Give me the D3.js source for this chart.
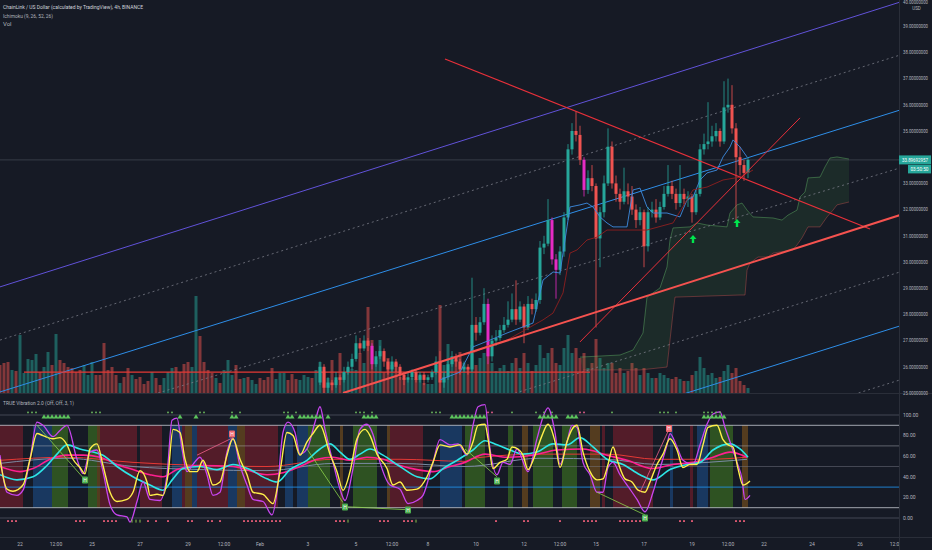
<!DOCTYPE html>
<html><head><meta charset="utf-8">
<script src="https://cdn.jsdelivr.net/npm/d3@7"></script>
<style>html,body{margin:0;padding:0;background:#161a25;overflow:hidden}svg{display:block}</style>
</head><body><svg id="c" width="932" height="550"></svg>
<script>
// ---------------- DATA ----------------
const titleMain = "ChainLink / US Dollar (calculated by TradingView), 4h, BINANCE";
const titleIchi = "Ichimoku (9, 26, 52, 26)";
const titleVol = "Vol";
const titleInd = "TRUE Vibration 2.0 (Off, Off, 3, 1)";
const currentPrice = 33.89692957;
const countdown = "03:50:50";

const priceTicks = [40,39,38,37,36,35,33,32,31,30,29,28,27,26,25];
const indTicks = [100,80,60,40,20,0];
const indLevels = [100,90,70,50,30,10,0];
const tickDays = [0,1.5,3,5,7,8.5,10,12,14,15.5,17,19,21,22.5,24,26,28,29.5,31,33,35,36.5];
const tickLabels = ["22","12:00","25","27","29","12:00","Feb","3","5","12:00","8","10","12","12:00","15","17","19","12:00","22","24","26","12:00"];

// volume, one per 4h candle (index 0..187)
const volume = [28,30,31,23,22,58,20,34,33,39, 21,26,41,28,59,33,30,26,25,21,
 23,28,18,31,18,18,50,23,26,18, 10,16,25,18,14,16,9,12,21,15,
 8,15,21,25,26,21,29,31,26,97, 57,31,23,20,15,10,23,33,18,28,
 14,15,16,13,9,15,13,16,25,14, 20,20,13,19,14,13,18,16,15,23,
 31,21,15,33,13,40,20,25,24,23, 40,30,86,53,33,53,21,35,28,30,
 16,15,13,15,14,17,10,9,9,28, 88,28,49,33,33,41,30,25,48,28,
 35,40,45,30,22,25,28,22,30,35, 25,40,30,22,28,48,35,40,45,30,
 28,45,58,40,45,35,40,25,30,54, 35,25,30,30,20,25,20,22,30,25,
 18,25,20,15,15,20,18,15,14,16, 14,12,12,18,22,36,25,18,20,15,
 16,22,28,20,25,12,8,5];
// direction of early (off-screen) candles: t = up, r = down
const earlyDir = "rrrtrtttttrttrtrrrrrrtttrrrrrrtrrtrrrrtrrtttrrrrttrrrrtrtttrrtrttrrrrtttrrrtttrt";

const candleStart = 80;
const candleFirstOpen = 25.4;
const candleClose = [26.0,25.2,25.4,25.3,25.6,25.5,25.8,26.0,26.3,26.9,
 26.7,27.0,26.8,26.1,26.4,26.6,26.2,25.9,26.2,26.0,
 25.7,25.5,25.6,25.8,25.5,25.7,25.5,25.6,25.8,26.2,
 25.4,25.6,26.1,26.4,26.2,25.9,26.0,25.9,27.6,27.3,
 27.7,28.4,26.4,27.0,27.1,27.4,27.6,27.8,28.2,27.8,
 28.3,27.5,28.4,28.2,28.55,30.55,30.7,31.6,30.1,29.7,
 30.4,31.7,34.3,35.0,34.85,33.9,32.75,33.2,32.9,30.9,
 31.9,33.0,34.4,33.0,32.6,32.3,32.7,32.5,32.0,31.6,
 31.9,30.6,31.9,32.0,31.7,32.1,32.6,32.9,32.6,32.25,
 32.6,32.4,32.5,31.9,32.6,34.3,34.5,34.6,34.8,35.0,
 34.6,35.9,36.0,35.1,34.0,33.7,33.4,33.897];
const candleHigh = [26.2,26.1,25.6,25.5,25.8,25.7,26.0,26.2,26.5,27.2,
 27.1,27.2,27.1,26.9,26.6,26.8,26.7,26.3,26.4,26.3,
 26.1,25.8,25.8,25.9,25.9,25.8,25.8,25.7,25.9,26.4,
 26.6,25.8,26.3,26.6,26.5,26.3,26.2,26.1,29.4,27.9,
 27.9,29.0,28.6,27.2,27.4,27.6,27.9,28.5,28.8,29.3,
 28.5,28.4,28.7,28.6,28.8,30.8,31.0,32.4,31.7,30.3,
 30.6,31.9,34.5,35.3,35.75,35.2,34.0,33.5,33.7,33.0,
 32.1,33.3,35.1,34.6,33.3,32.8,33.6,33.0,32.9,32.2,
 32.1,32.0,32.1,32.3,32.4,32.3,32.9,33.7,33.1,32.8,
 33.7,32.8,32.7,32.6,32.8,34.5,34.9,36.1,35.2,35.3,
 35.1,36.9,37.0,36.75,35.3,34.4,33.9,34.0];
const candleLow = [25.3,25.0,25.0,25.1,25.2,25.3,25.4,25.7,25.9,26.2,
 26.5,26.6,26.6,25.9,26.0,26.3,26.0,25.7,25.8,25.8,
 25.5,25.3,25.4,25.5,25.4,25.4,25.3,25.4,25.5,25.7,
 25.0,25.2,25.5,26.0,26.0,25.7,25.8,25.7,25.8,27.0,
 27.2,27.6,26.1,26.2,26.8,27.0,27.3,27.5,27.7,27.6,
 27.7,26.9,27.4,28.0,28.1,28.4,30.3,30.6,29.9,28.6,
 29.5,30.2,31.6,34.1,34.6,33.7,32.5,32.6,32.7,27.5,
 29.8,31.7,32.9,32.8,32.3,32.0,32.2,32.2,31.8,31.3,
 31.4,29.8,30.4,31.7,31.5,31.6,32.0,32.5,32.4,32.0,
 32.1,32.2,32.1,31.5,31.8,32.5,34.1,34.3,34.4,34.6,
 34.4,34.5,35.7,34.9,31.6,33.3,33.1,33.2];
const magentaIdx = [93,122,138,139,146];

// Ichimoku lines [candle index, price]
const tenkan = [[110,25.5],[115,25.8],[118.25,26.76],[122.5,27.02],[126.75,27.29],[133.25,27.67],[135.75,29.31],[138.25,29.62],[140,29.58],[141.75,31.34],[142.5,32.10],[145,32.18],[146.75,32.25],[148.25,32.10],[150,31.72],[151.75,31.49],[153.25,31.34],[156.75,31.34],[158.25,32.75],[160,32.82],[161.75,32.10],[163.25,31.87],[166.75,31.87],[170,31.72],[171.75,32.37],[173.25,32.48],[175,33.13],[176.75,33.40],[179.25,33.51],[180.75,34.01],[182.5,34.39],[183.25,34.66],[185,34.39],[186.75,34.01]];
const kijun = [[118.25,26.53],[122.5,26.83],[126.75,27.02],[135.75,27.79],[138.25,28.05],[140.75,28.82],[142.5,30.34],[144.25,30.46],[146.75,30.84],[149.25,30.95],[151.75,31.22],[161.75,31.22],[168.25,31.49],[173.25,32.75],[176.75,32.86],[180.75,33.13],[185,33.24],[188.25,33.51]];
const spanA = [[145,26.37],[155,26.45],[158.25,26.64],[160.75,27.29],[161.75,28.66],[165,29.01],[166.75,29.81],[167.5,30.84],[168.25,31.30],[172.5,31.34],[174.25,31.49],[176.75,31.41],[181.75,31.34],[182.5,31.87],[184.25,32.18],[185.5,32.25],[186.75,31.98],[188.25,31.72],[193.25,31.68],[195.5,31.60],[197,31.79],[199.25,31.98],[200,32.48],[201.25,32.67],[202,33.21],[205,33.24],[206.25,33.63],[207.5,33.97],[209.25,34.01],[212.25,33.93]];
const spanB = [[145.75,25.88],[160,25.88],[166.75,25.99],[168.25,28.05],[168.75,28.66],[185,28.74],[186.25,28.74],[186.75,29.69],[187.5,29.96],[189.5,30.19],[192,30.19],[193.25,30.34],[198.25,30.46],[199.25,30.65],[200.5,30.92],[202,31.34],[205,31.34],[206.75,31.72],[208.25,31.98],[209.25,32.18],[212.25,32.29]];

// Drawn lines [candle index, price]
const channelPurple = [[0,29.05],[225,39.92]];
const channelBlue = [[[0,25.04],[225,35.80]],[[0,16.76],[225,27.56]]];
const channelDotted = [[[0,27.02],[225,37.90]],[[0,23.17],[225,33.59]],[[0,18.8],[225,29.62]],[[0,14.7],[225,25.5]]];
const trendDown = [[111.25,37.75],[217.5,31.26]];
const trendUpThin = [[145,26.95],[200,35.50]];
const trendSupport = [[85.75,25.0],[225,31.79]];
const levelLine = [[6,25.8],[147.5,25.8]];
const arrowsUp = [[173.25,30.88],[184.25,31.49]];

// Indicator [candle index, value]
const indYellow = [[0,57],[1.75,28],[3.25,26],[5.75,32],[7.5,57],[9.25,82],[10.75,80],[13.25,77],[15,78],[16.75,71],[18.25,57],[20,49],[21.25,43],[22.5,67],[24.25,72],[25.75,51],[27.5,25],[29.25,16],[31.75,18],[33.25,25],[35,46],[36.75,35],[37.5,22],[39.25,23],[40.75,22],[42,42],[43.25,86],[45,83],[46.25,57],[47.5,45],[49.25,45],[50.75,56],[52,45],[53.25,32],[55,35],[56.75,61],[58.25,77],[60,57],[61.75,42],[63.25,25],[65.75,23],[68.25,14],[70,45],[71.75,83],[73.25,80],[75,61],[76.75,74],[78.25,82],[80,90],[82.5,62],[84.25,45],[85.75,27],[87.5,45],[89.25,77],[91.25,86],[92.5,80],[94.25,62],[96.75,48],[98.25,32],[100,35],[101.75,27],[104.25,28],[106.75,40],[108.25,54],[110,71],[112.5,69],[115,71],[116.75,62],[118.25,74],[119.5,90],[121.25,91],[122,77],[123.25,48],[125,54],[126.75,57],[128,69],[129.5,67],[130.75,61],[132,47],[133.75,61],[135.5,80],[137,91],[138.75,74],[140,49],[141.75,74],[143,86],[144.25,90],[145.75,64],[147.5,45],[149.25,37],[150.75,38],[152,52],[153.25,69],[154.5,54],[156.25,38],[158,35],[159.5,27],[161.25,25],[162.5,35],[164.25,52],[165.75,62],[167.5,77],[169.25,66],[170.75,49],[172.5,52],[174.25,52],[175.75,71],[177,88],[179.25,90],[180.75,76],[182,71],[183.25,69],[184.5,48],[185.75,32],[187.5,36]];
const indPurple = [[0,61],[1.75,25],[4.25,22],[5.75,27],[7.5,57],[9.25,93],[10.75,90],[13.25,79],[15,85],[16.75,90],[19.25,57],[20.75,43],[22.5,64],[24.25,66],[25.75,45],[27.5,13],[29.25,3],[31.75,1],[32.5,-4],[34.25,16],[35.75,35],[37.5,18],[40,17],[41.75,42],[43,95],[44.25,97],[45.5,67],[46.75,45],[48.25,52],[50,59],[51.75,42],[53.25,22],[55,25],[56.75,64],[58.25,77],[60,51],[61.75,32],[63.25,18],[65.75,16],[68,3],[69.25,25],[70.75,83],[72,93],[73.75,83],[75,62],[76.75,67],[78.75,93],[80,108],[81.25,86],[83.25,54],[85,28],[86.25,17],[88.25,48],[90,86],[91.75,91],[93.25,81],[95,54],[97.5,32],[100,28],[102,14],[104.25,17],[105.75,22],[108.25,54],[110,76],[112.5,71],[114.5,72],[116.75,61],[118.25,90],[119.5,108],[121.25,110],[122.5,67],[124.25,42],[125.75,54],[127.5,52],[129.25,67],[132,45],[134.25,77],[135.75,98],[137,107],[138.75,83],[140,52],[141.75,74],[143,90],[144.25,88],[145.75,54],[147.5,42],[149.25,25],[150.75,25],[152,49],[153.25,54],[155,42],[157.5,28],[159.25,18],[161.25,6],[163.25,25],[165,48],[166.75,71],[167.5,82],[169.25,69],[170.75,56],[173.25,52],[175,71],[176.75,91],[178.25,101],[180,103],[181.25,88],[182.5,74],[184.25,54],[185.5,38],[186.25,18],[187.5,22]];
const indCyan = [[0,42],[4.25,37],[8.25,40],[11.75,51],[14.25,62],[16.75,71],[20,67],[23.25,64],[25.75,61],[29.25,50],[33.25,40],[37.5,32],[40.75,27],[43.25,38],[45.75,48],[50,50],[54.25,47],[58.25,52],[62.5,47],[66.75,38],[69.25,35],[72.5,47],[76.75,56],[80,67],[82.5,72],[85,64],[87.5,57],[90,62],[92.5,67],[95.75,61],[100,50],[104.25,40],[107.5,38],[110.75,48],[114.25,56],[118.25,66],[121.25,75],[124.25,71],[127.5,66],[130.75,62],[134.25,64],[138.25,72],[141.75,71],[145,78],[148.25,69],[151.75,57],[155.75,52],[160,42],[163.25,37],[167.5,47],[171.75,52],[175,54],[178.25,66],[182.5,72],[185,67],[187,59]];
const indPink = [[0,50],[5,45],[8.25,48],[12.5,57],[16.75,61],[20.75,61],[25,59],[29.25,52],[33.25,47],[37.5,42],[40.75,40],[44.25,47],[50,51],[58.25,50],[66.75,42],[70.75,44],[75,50],[79.25,57],[83.25,59],[87.5,56],[91.75,59],[95.75,57],[100,51],[104.25,47],[108.25,45],[112.5,50],[116.25,54],[121.25,62],[126.75,59],[133.25,61],[139.25,66],[145.75,67],[151.75,61],[156.75,56],[163.25,48],[168.25,52],[173.25,54],[178.25,59],[182.5,64],[186.75,59]];
const indRed = [[0,56],[16.75,59],[33.25,54],[50,51],[66.75,50],[83.25,57],[100,57],[116.25,55],[118.25,58],[135,62],[151.75,62],[164.25,57],[176.75,57],[186.75,59]];
const indSlate = [[0,53],[16.75,58],[33.25,50],[50,47],[66.75,46],[83.25,53],[100,53],[116.25,50],[135,58],[151.75,57],[164.25,52],[176.75,54],[186.75,57]];
const pivotGreen = [[[9.25,90],[21.25,37]],[[76.75,67],[85.75,15]],[[86.25,11],[102,8]],[[116.25,67],[124.25,40]],[[149.25,25],[161.25,3]]];
const pivotPink = [[[49.25,61],[58.25,78]],[[160,25],[167,84]]];
const hGreen = [[21.25,37],[86.25,10.7],[102,7.8],[124.25,36],[161.25,0]];
const hPink = [[58,81.5],[167.25,87]];
// background zones [startIdx, endIdx, kind]
const zones = [[0,5.75,'r'],[8.25,13,'b'],[13,17,'g'],[22,24.25,'g'],[24.25,25,'o'],[25,34.25,'r'],[35,40.5,'r'],[43,45.5,'b'],[45.5,46.25,'r'],[46.25,48,'o'],[48,49.25,'b'],[49.25,57,'r'],[57,59.25,'b'],[59.25,61.25,'o'],[61.25,69.5,'r'],[71.25,73.25,'b'],[74.25,77,'b'],[77,82.5,'g'],[85,85.75,'o'],[88.25,94.25,'g'],[96.75,97.5,'o'],[97.5,105.75,'r'],[110,115.5,'b'],[116.25,121.25,'g'],[127,128.25,'g'],[130.5,132,'o'],[133.25,138.25,'g'],[140.5,144.25,'g'],[147.5,150,'o'],[150.5,151.25,'r'],[153.25,163.25,'r'],[167.5,168.25,'b'],[172.5,173.25,'r'],[174.25,177,'b'],[177.5,183.25,'g'],[185.5,187,'o']];
const triangleIdx = [11,12,13,14,15,16,17,45,49,58,59,72,73,75,76,77,78,79,80,82,91,92,93,94,113,114,115,116,117,118,119,120,121,135,136,137,138,139,142,143,144,176,177,178,179,180,181];
const dotGreenIdx = [7,8,9,23,24,25,42,43,50,51,58,60,71,72,74,89,90,91,93,108,109,110,128,134,136,138,153,165,166,167,169,176,177,178,179,180];
const dotPinkIdx = [122,123,145,146];
const bottomPinkIdx = [2,3,4,19,20,21,26,27,28,29,37,39,42,47,48,52,53,55,61,62,63,64,65,66,67,68,69,70,84,85,86,95,96,97,101,102,103,124,131,132,140,146,147,148,149,155,156,157,158,159,160,170,171,173,184,185,186];
const bottomGreenIdx = [33,34,35,87,104];

// ---------------- CHART ----------------
const W=932,H=550;
const BG="#161a25";
const svg=d3.select('#c');
svg.append('rect').attr('width',W).attr('height',H).attr('fill',BG);
const x=d3.scaleLinear().domain([0,225]).range([0,900]);
const yP=d3.scaleLinear().domain([25,40]).range([393,0]);
const yV=d3.scaleLinear().domain([0,100]).range([393,293]);
const yI=d3.scaleLinear().domain([0,100]).range([518,415]);
const dayIdx=d=>5+6*d;
const FONT="Roboto, 'Noto Sans', sans-serif";
const TXT="#b2b5be";

const defs=svg.append('defs');
defs.append('clipPath').attr('id','cp').append('rect').attr('x',0).attr('y',0).attr('width',899).attr('height',393);
defs.append('clipPath').attr('id','ci').append('rect').attr('x',0).attr('y',394).attr('width',899).attr('height',143);
defs.append('clipPath').attr('id','ct').append('rect').attr('x',0).attr('y',537).attr('width',899).attr('height',13);

const gP=svg.append('g').attr('clip-path','url(#cp)');
const lineP=d3.line().x(d=>x(d[0])).y(d=>yP(d[1]));

// volume
const candleDir=i=>{
  if(i>=candleStart){const k=i-candleStart;const o=k?candleClose[k-1]:candleFirstOpen;return candleClose[k]>=o;}
  return earlyDir[i]==='t';
};
gP.append('g').selectAll('rect').data(volume).join('rect')
 .attr('x',(v,i)=>x(i)-1.5).attr('width',3)
 .attr('y',v=>yV(v)).attr('height',v=>393-yV(v))
 .attr('fill',(v,i)=>candleDir(i)?'#26a69a':'#ef5350').attr('fill-opacity',0.5);

// cloud
const cloudPoly=spanA.concat(spanB.slice().reverse());
gP.append('path').attr('d',lineP(cloudPoly)+'Z').attr('fill','#43a047').attr('fill-opacity',0.13).attr('stroke','none');
gP.append('path').attr('d',lineP(spanA)).attr('fill','none').attr('stroke','#66bb6a').attr('stroke-opacity',0.55).attr('stroke-width',0.8);
gP.append('path').attr('d',lineP(spanB)).attr('fill','none').attr('stroke','#c0504d').attr('stroke-opacity',0.55).attr('stroke-width',0.8);

// channel
gP.append('path').attr('d',lineP(channelPurple)).attr('stroke','#6152d9').attr('stroke-width',1).attr('fill','none');
channelBlue.forEach(l=>gP.append('path').attr('d',lineP(l)).attr('stroke','#2e8ee8').attr('stroke-width',1).attr('fill','none'));
channelDotted.forEach(l=>gP.append('path').attr('d',lineP(l)).attr('stroke','#787b86').attr('stroke-width',0.8).attr('stroke-dasharray','2,3').attr('fill','none'));
gP.append('path').attr('d',lineP(levelLine)).attr('stroke','#e53935').attr('stroke-width',1.3).attr('fill','none');
// price line
gP.append('line').attr('x1',0).attr('x2',899).attr('y1',yP(currentPrice)).attr('y2',yP(currentPrice)).attr('stroke','#5d606b').attr('stroke-width',0.6).attr('stroke-opacity',0.8);

// candles
const candles=candleClose.map((c,k)=>({i:candleStart+k,o:k?candleClose[k-1]:candleFirstOpen,c,h:candleHigh[k],l:candleLow[k]}));
const cCol=d=>magentaIdx.includes(d.i)?'#e62bc4':(d.c>=d.o?'#26a69a':'#ef5350');
const gC=gP.append('g');
gC.selectAll('line').data(candles).join('line')
 .attr('x1',d=>x(d.i)).attr('x2',d=>x(d.i)).attr('y1',d=>yP(d.h)).attr('y2',d=>yP(d.l))
 .attr('stroke',cCol).attr('stroke-width',0.8);
gC.selectAll('rect').data(candles).join('rect')
 .attr('x',d=>x(d.i)-1.5).attr('width',3)
 .attr('y',d=>yP(Math.max(d.o,d.c))).attr('height',d=>Math.max(0.8,Math.abs(yP(d.o)-yP(d.c))))
 .attr('fill',cCol);

// ichimoku
gP.append('path').attr('d',lineP(tenkan)).attr('stroke','#3d8be0').attr('stroke-width',0.9).attr('fill','none');
gP.append('path').attr('d',lineP(kijun)).attr('stroke','#8e1f1f').attr('stroke-width',0.9).attr('fill','none');

// trend lines
gP.append('path').attr('d',lineP(trendDown)).attr('stroke','#e8303a').attr('stroke-width',1.2).attr('fill','none');
gP.append('path').attr('d',lineP(trendUpThin)).attr('stroke','#e8303a').attr('stroke-width',1).attr('fill','none');
gP.append('path').attr('d',lineP(trendSupport)).attr('stroke','#f5524f').attr('stroke-width',2).attr('fill','none');

// arrows
arrowsUp.forEach(a=>{
  const cx=x(a[0]),cy=yP(a[1]);
  gP.append('path').attr('d',`M${cx},${cy-4} L${cx+3.5},${cy} L${cx+1.2},${cy} L${cx+1.2},${cy+4} L${cx-1.2},${cy+4} L${cx-1.2},${cy} L${cx-3.5},${cy} Z`).attr('fill','#00e64d');
});

// header texts
svg.append('text').attr('x',3).attr('y',9).text(titleMain).attr('fill','#d1d4dc').attr('font-family',FONT).attr('font-size',6).attr('textLength',140).attr('lengthAdjust','spacingAndGlyphs');
svg.append('text').attr('x',3).attr('y',17.5).text(titleIchi).attr('fill',TXT).attr('font-family',FONT).attr('font-size',6).attr('textLength',50).attr('lengthAdjust','spacingAndGlyphs');
svg.append('text').attr('x',3).attr('y',26).text(titleVol).attr('fill',TXT).attr('font-family',FONT).attr('font-size',6);

// ---------------- INDICATOR ----------------
const gI=svg.append('g').attr('clip-path','url(#ci)');
const zoneCol={r:'rgba(170,32,48,0.42)',g:'rgba(80,160,30,0.42)',b:'rgba(33,120,220,0.32)',o:'rgba(230,140,20,0.3)'};
gI.selectAll('rect.z').data(zones).join('rect').attr('class','z')
 .attr('x',d=>x(d[0])).attr('width',d=>x(d[1])-x(d[0]))
 .attr('y',yI(90)).attr('height',yI(10)-yI(90)).attr('fill',d=>zoneCol[d[2]]);
const lvlStyle={100:['#787b86',0.6,0.8],90:['#d1d4dc',0.75,1],70:['#b2b5be',0.6,0.8],50:['#787b86',0.6,0.8],30:['#2196f3',0.9,0.9],10:['#d1d4dc',0.75,1],0:['#787b86',0.6,0.8]};
indLevels.forEach(v=>{
  const s=lvlStyle[v];
  gI.append('line').attr('x1',0).attr('x2',899).attr('y1',yI(v)).attr('y2',yI(v)).attr('stroke',s[0]).attr('stroke-opacity',s[1]).attr('stroke-width',s[2]);
});
const lineI=d3.line().x(d=>x(d[0])).y(d=>yI(d[1])).curve(d3.curveMonotoneX);
const lineIs=d3.line().x(d=>x(d[0])).y(d=>yI(d[1]));
gI.append('path').attr('d',lineI(indRed)).attr('stroke','#e53935').attr('stroke-width',1).attr('fill','none');
gI.append('path').attr('d',lineI(indSlate)).attr('stroke','#7b8ba3').attr('stroke-width',1).attr('fill','none');
gI.append('path').attr('d',lineI(indPink)).attr('stroke','#ff1f8f').attr('stroke-width',1.6).attr('fill','none');
gI.append('path').attr('d',lineI(indCyan)).attr('stroke','#2de6e6').attr('stroke-width',1.6).attr('fill','none');
gI.append('path').attr('d',lineI(indPurple)).attr('stroke','#c845f0').attr('stroke-width',1.3).attr('fill','none');
gI.append('path').attr('d',lineI(indYellow)).attr('stroke','#fff04a').attr('stroke-width',1.4).attr('fill','none');
pivotGreen.forEach(p=>gI.append('path').attr('d',lineIs(p)).attr('stroke','#8bd34a').attr('stroke-width',0.8).attr('fill','none'));
pivotPink.forEach(p=>gI.append('path').attr('d',lineIs(p)).attr('stroke','#f0608a').attr('stroke-width',0.8).attr('fill','none'));
const hBox=(arr,col)=>arr.forEach(h=>{
  const cx=x(h[0]),cy=yI(h[1]);
  gI.append('rect').attr('x',cx-3).attr('y',cy-3.5).attr('width',6).attr('height',7).attr('rx',1).attr('fill',col);
  gI.append('text').attr('x',cx).attr('y',cy+1.8).attr('text-anchor','middle').text('H').attr('fill','#ffffff').attr('font-family',FONT).attr('font-size',5);
});
hBox(hGreen,'#4caf50');hBox(hPink,'#f0666e');
const tri=d3.symbol().type(d3.symbolTriangle).size(11);
gI.selectAll('path.tri').data(triangleIdx).join('path').attr('class','tri')
 .attr('d',tri).attr('transform',i=>`translate(${x(i)},${yI(98)})`).attr('fill','#5cc45c');
gI.selectAll('rect.dg').data(dotGreenIdx).join('rect').attr('class','dg')
 .attr('x',i=>x(i)-0.8).attr('y',yI(102.5)-0.8).attr('width',1.6).attr('height',1.6).attr('fill','#6fbf5f');
gI.selectAll('rect.dp').data(dotPinkIdx).join('rect').attr('class','dp')
 .attr('x',i=>x(i)-0.8).attr('y',yI(102.5)-0.8).attr('width',1.6).attr('height',1.6).attr('fill','#f06292');
gI.selectAll('rect.bp').data(bottomPinkIdx).join('rect').attr('class','bp')
 .attr('x',i=>x(i)-0.9).attr('y',yI(-3)-0.9).attr('width',1.8).attr('height',1.8).attr('fill','#f0607a');
gI.selectAll('rect.bg2').data(bottomGreenIdx).join('rect').attr('class','bg2')
 .attr('x',i=>x(i)-0.5).attr('y',yI(-3)-1.5).attr('width',1).attr('height',3).attr('fill','#8bc34a');
svg.append('text').attr('x',3).attr('y',405).text(titleInd).attr('fill',TXT).attr('font-family',FONT).attr('font-size',6).attr('textLength',71).attr('lengthAdjust','spacingAndGlyphs');

// ---------------- AXES ----------------
svg.append('line').attr('x1',0).attr('x2',W).attr('y1',393.5).attr('y2',393.5).attr('stroke','#2a2e39').attr('stroke-width',1);
svg.append('line').attr('x1',0).attr('x2',W).attr('y1',537.5).attr('y2',537.5).attr('stroke','#2a2e39').attr('stroke-width',1);
svg.append('line').attr('x1',899.5).attr('x2',899.5).attr('y1',0).attr('y2',550).attr('stroke','#2a2e39').attr('stroke-width',1);

const fmtP=d3.format('.8f');
svg.append('g').selectAll('text').data(priceTicks).join('text')
 .attr('x',903).attr('y',p=>Math.max(4.2,yP(p)+1.8)).text(p=>fmtP(p)).attr('fill',TXT).attr('font-family',FONT).attr('font-size',5)
 .attr('textLength',25).attr('lengthAdjust','spacingAndGlyphs');
svg.append('text').attr('x',916.5).attr('y',9.5).attr('text-anchor','middle').text('USD').attr('fill',TXT).attr('font-family',FONT).attr('font-size',4.5);
// current price label
const cy=yP(currentPrice);
svg.append('rect').attr('x',899).attr('y',cy-4.5).attr('width',32).attr('height',9).attr('fill','#26a69a');
svg.append('text').attr('x',902).attr('y',cy+1.8).text(currentPrice.toFixed(8)).attr('fill','#ffffff').attr('font-family',FONT).attr('font-size',5).attr('textLength',26).attr('lengthAdjust','spacingAndGlyphs');
svg.append('rect').attr('x',908).attr('y',cy+5).attr('width',23).attr('height',8.5).attr('fill','#26a69a');
svg.append('text').attr('x',910.5).attr('y',cy+11).text(countdown).attr('fill','#ffffff').attr('font-family',FONT).attr('font-size',5).attr('textLength',18).attr('lengthAdjust','spacingAndGlyphs');

const fmtI=d3.format('.2f');
svg.append('g').selectAll('text').data(indTicks).join('text')
 .attr('x',903).attr('y',v=>yI(v)+1.8).text(v=>fmtI(v)).attr('fill',TXT).attr('font-family',FONT).attr('font-size',5);

svg.append('g').attr('clip-path','url(#ct)').selectAll('text').data(tickDays).join('text')
 .attr('x',d=>x(dayIdx(d))).attr('y',546).attr('text-anchor','middle')
 .text((d,k)=>tickLabels[k]).attr('fill',TXT).attr('font-family',FONT).attr('font-size',5);
</script></body></html>
